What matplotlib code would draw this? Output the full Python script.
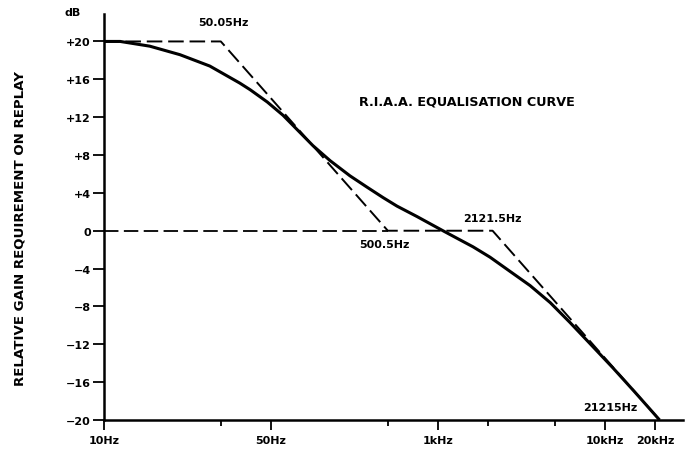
import matplotlib
matplotlib.use("Agg")
import matplotlib.pyplot as plt

# RIAA replay curve
freq_hz = [10, 12.5, 18.8, 28.5, 43, 65, 75, 95, 118, 178, 226, 297, 376,
           469, 568, 748, 1070, 1300, 1620, 2050, 2700, 3560, 4700, 6170,
           8000, 11160, 15000, 21215]
gain_db = [20.0, 20.0, 19.5, 18.6, 17.4, 15.6, 14.9, 13.6, 12.2, 9.0, 7.4,
           5.8, 4.6, 3.5, 2.6, 1.5, 0.0, -0.8, -1.7, -2.8, -4.3, -5.8, -7.6,
           -9.7, -11.8, -14.5, -17.0, -20.0]

# straight-line asymptotes
asym_f = [10, 50.05, 500.5, 2121.5, 21215]
asym_db = [20, 20, 0, 0, -20]
base_f = [10, 500.5]
base_db = [0, 0]

corner_labels = ["50.05Hz", "500.5Hz", "2121.5Hz", "21215Hz"]

ytick_vals = [20, 16, 12, 8, 4, 0, -4, -8, -12, -16, -20]
ytick_labels = ["+20", "+16", "+12", "+8", "+4", "0", "\u22124", "\u22128",
                "\u221212", "\u221216", "\u221220"]
xtick_vals = [10, 100, 1000, 10000, 20000]
xtick_labels = ["10Hz", "50Hz", "1kHz", "10kHz", "20kHz"]
xminor_vals = [50, 500, 2000, 5000]

plt.rcParams['font.family'] = ['DejaVu Sans']
plt.rcParams['font.weight'] = 'bold'

fig = plt.figure(figsize=(6.86, 4.52), dpi=100)
ax = fig.add_axes([104/686, 1 - 421/452, (683 - 104)/686, (421 - 15)/452])
ax.set_xscale('log')
ax.set_xlim(10, 29300)
ax.set_ylim(-20, 22.9)

ax.plot(base_f, base_db, color='black', lw=1.3, linestyle=(0, (8, 3)))
ax.plot(asym_f, asym_db, color='black', lw=1.4, linestyle=(0, (8, 3)))
ax.plot(freq_hz, gain_db, color='black', lw=2.2, solid_capstyle='butt',
        solid_joinstyle='round')

for s in ['top', 'right']:
    ax.spines[s].set_visible(False)
for s in ['left', 'bottom']:
    ax.spines[s].set_linewidth(1.8)

ax.set_yticks(ytick_vals)
ax.set_yticklabels(ytick_labels, fontsize=8, fontweight='bold')
ax.set_xticks(xtick_vals)
ax.set_xticklabels(xtick_labels, fontsize=8, fontweight='bold')
ax.set_xticks(xminor_vals, minor=True)
ax.set_xticklabels([], minor=True)
ax.tick_params(axis='y', direction='out', length=8, width=1.3, pad=1.5)
ax.tick_params(axis='x', which='major', direction='out', length=7, width=1.3, pad=4)
ax.tick_params(axis='x', which='minor', direction='out', length=4, width=1.3)

fig.text(20/686, 1 - 228/452, "RELATIVE GAIN REQUIREMENT ON REPLAY",
         fontsize=9.6, fontweight='bold', rotation=90, ha='center', va='center')

fig.text(73/686, 1 - 13/452, "dB", fontsize=8, fontweight='bold',
         ha='center', va='center')

ax.text(36.6, 22.1, corner_labels[0], fontsize=8, fontweight='bold',
        ha='left', va='center')
ax.text(336.5, -1.45, corner_labels[1], fontsize=8, fontweight='bold',
        ha='left', va='center')
ax.text(1412, 1.35, corner_labels[2], fontsize=8, fontweight='bold',
        ha='left', va='center')
ax.text(15550, -18.6, corner_labels[3], fontsize=8, fontweight='bold',
        ha='right', va='center')
ax.text(336.5, 13.7, "R.I.A.A. EQUALISATION CURVE", fontsize=9.2,
        fontweight='bold', ha='left', va='center')

fig.savefig("out.png", dpi=100)
